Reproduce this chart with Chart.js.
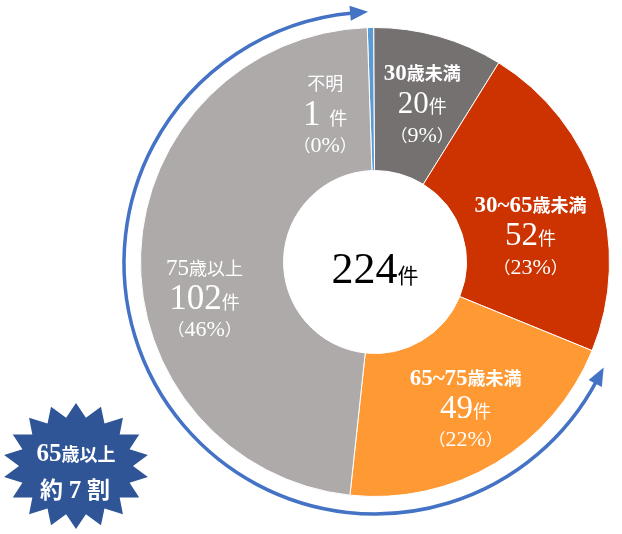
<!DOCTYPE html>
<html>
<head>
<meta charset="utf-8">
<script src="https://cdn.jsdelivr.net/npm/chart.js@4.4.1/dist/chart.umd.min.js"></script>
<style>
  html, body { margin: 0; background: #fff; }
  #wrap { width: 622px; height: 534px; }
</style>
</head>
<body>
<div id="wrap"><canvas id="chart" width="622" height="534"></canvas></div>
<script>
const CATEGORIES = ["不明", "30歳未満", "30~65歳未満", "65~75歳未満", "75歳以上"];
const COUNTS = [1, 20, 52, 49, 102];
const PERCENTS = ["0%", "9%", "23%", "22%", "46%"];
const SLICE_VALUES = [1, 20, 50, 46, 107];
const TOTAL = 224;
const BADGE_LINES = ["65歳以上", "約 7 割"];

const COLORS = ["#5B9BD5", "#767171", "#CC3300", "#FF9933", "#AEAAAA"];
const ARROW_BLUE = "#4472C4";
const BADGE_BLUE = "#2F5597";
const FONT = '"Liberation Serif", "Noto Sans CJK JP", serif';

// where each label block sits: [angle from top in degrees, distance from centre]
const LABEL_PLACE = [[-18.5, 157], [16.5, 166], [80, 158], [148, 171], [258.4, 174]];
const NUM_SIZE = [35, 31, 33, 33, 35];

function splitRuns(text, asciiSize, cjkSize, weight) {
  const runs = [];
  text.match(/[\x20-\x7e]+|[^\x20-\x7e]+/g).forEach((part) => {
    const ascii = /^[\x20-\x7e]/.test(part);
    runs.push({ t: part, size: ascii ? asciiSize : cjkSize, weight, ascii });
  });
  return runs;
}

function drawRuns(ctx, runs, cx, cy, color) {
  let total = 0;
  runs.forEach((r) => {
    ctx.font = `${r.weight || "normal"} ${r.size}px ${FONT}`;
    r.w = ctx.measureText(r.t).width;
    total += r.w;
  });
  const asciiMax = Math.max(0, ...runs.filter((r) => r.ascii).map((r) => r.size));
  const baseline = asciiMax ? cy + asciiMax * 0.33 : cy + runs[0].size * 0.38;
  let x = cx - total / 2;
  ctx.fillStyle = color;
  ctx.textAlign = "left";
  ctx.textBaseline = "alphabetic";
  runs.forEach((r) => {
    ctx.font = `${r.weight || "normal"} ${r.size}px ${FONT}`;
    ctx.fillText(r.t, x, baseline);
    x += r.w;
  });
}

const labelPlugin = {
  id: "sliceLabels",
  afterDatasetsDraw(chart) {
    const ctx = chart.ctx;
    const arc = chart.getDatasetMeta(0).data[0];
    const cx = arc.x, cy = arc.y;
    ctx.save();
    CATEGORIES.forEach((name, i) => {
      const [deg, r] = LABEL_PLACE[i];
      const a = deg * Math.PI / 180;
      const x = cx + r * Math.sin(a);
      const y = cy - r * Math.cos(a);
      const bold = i >= 1 && i <= 3 ? "bold" : "normal";
      drawRuns(ctx, splitRuns(name, 23, 18, bold), x, y - 30, "#fff");
      const countText = i === 0 ? `${COUNTS[i]} ` : `${COUNTS[i]}`;
      drawRuns(ctx, [
        { t: countText, size: NUM_SIZE[i], ascii: true },
        { t: "件", size: 18, ascii: false },
      ], x, y, "#fff");
      drawRuns(ctx, [
        { t: "（", size: 17, ascii: false },
        { t: PERCENTS[i], size: 22, ascii: true },
        { t: "）", size: 17, ascii: false },
      ], x, y + 32, "#fff");
    });
    drawRuns(ctx, [
      { t: String(TOTAL), size: 44, ascii: true },
      { t: "件", size: 21, ascii: false },
    ], cx, cy + 6, "#000");
    ctx.restore();
  },
};

const decorPlugin = {
  id: "decor",
  afterDraw(chart) {
    const ctx = chart.ctx;
    const arc = chart.getDatasetMeta(0).data[0];
    const cx = arc.x, cy = arc.y + 1;
    const R = 251;

    // double-headed arrow arc around the outside
    const start = 28 * Math.PI / 180;
    const end = 265 * Math.PI / 180;
    ctx.save();
    ctx.strokeStyle = ARROW_BLUE;
    ctx.fillStyle = ARROW_BLUE;
    ctx.lineWidth = 3.5;
    ctx.beginPath();
    ctx.arc(cx, cy, R, start, end);
    ctx.stroke();
    const head = (ang, dir) => {
      const px = cx + R * Math.cos(ang), py = cy + R * Math.sin(ang);
      const tx = -Math.sin(ang) * dir, ty = Math.cos(ang) * dir;
      const nx = -ty, ny = tx;
      ctx.beginPath();
      ctx.moveTo(px + tx * 15, py + ty * 15);
      ctx.lineTo(px + nx * 7.5 - tx * 3, py + ny * 7.5 - ty * 3);
      ctx.lineTo(px - nx * 7.5 - tx * 3, py - ny * 7.5 - ty * 3);
      ctx.closePath();
      ctx.fill();
    };
    head(end, 1);
    head(start, -1);

    // starburst badge
    const bx = 76, by = 466, spikes = 18;
    ctx.beginPath();
    for (let k = 0; k < spikes * 2; k++) {
      const a = -Math.PI / 2 + k * Math.PI / spikes;
      const rx = k % 2 === 0 ? 73 : 57;
      const ry = k % 2 === 0 ? 63 : 49;
      const x = bx + rx * Math.cos(a), y = by + ry * Math.sin(a);
      if (k === 0) ctx.moveTo(x, y); else ctx.lineTo(x, y);
    }
    ctx.closePath();
    ctx.fillStyle = BADGE_BLUE;
    ctx.fill();
    drawRuns(ctx, splitRuns(BADGE_LINES[0], 25, 18, "bold"), bx, by - 13, "#fff");
    drawRuns(ctx, [
      { t: "約 ", size: 23, weight: "bold", ascii: false },
      { t: "7", size: 25, weight: "bold", ascii: true },
      { t: " 割", size: 23, weight: "bold", ascii: false },
    ], bx - 1, by + 24, "#fff");
    ctx.restore();
  },
};

new Chart(document.getElementById("chart"), {
  type: "doughnut",
  data: {
    labels: CATEGORIES,
    datasets: [{
      data: SLICE_VALUES,
      backgroundColor: COLORS,
      borderColor: "#ffffff",
      borderWidth: 1,
    }],
  },
  options: {
    responsive: false,
    animation: false,
    devicePixelRatio: 1,
    rotation: -1.9,
    cutout: "39%",
    layout: { padding: { left: 140, right: 12, top: 27, bottom: 37 } },
    plugins: {
      legend: { display: false },
      tooltip: { enabled: false },
    },
  },
  plugins: [labelPlugin, decorPlugin],
});
</script>
</body>
</html>
